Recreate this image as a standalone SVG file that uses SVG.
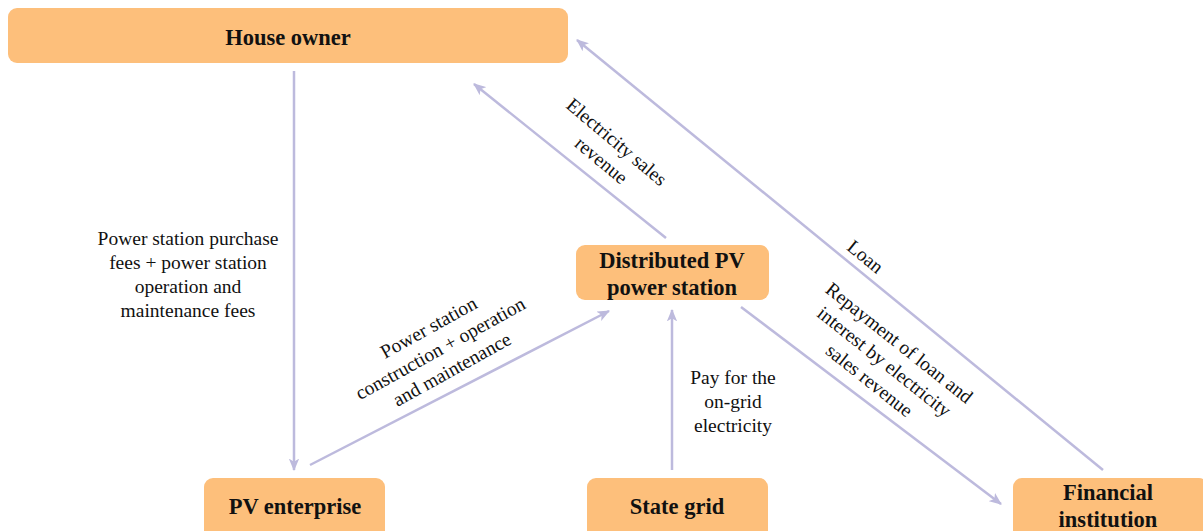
<svg xmlns="http://www.w3.org/2000/svg" width="1203" height="531" viewBox="0 0 1203 531">
<style>
.box{fill:#FDBF7B;}
.bt{font-family:"Liberation Serif",serif;font-weight:bold;font-size:22.5px;fill:#111;text-anchor:middle;}
.lt{font-family:"Liberation Serif",serif;font-size:19.5px;fill:#111;text-anchor:middle;}
.c{stroke:#BDBADD;stroke-width:2.5;fill:none;marker-end:url(#ah);}
</style>
<defs>
<marker id="ah" viewBox="0 0 12 10" refX="11" refY="5" markerWidth="5" markerHeight="4.2" orient="auto" markerUnits="strokeWidth">
<path d="M0,0 L12,5 L0,10 L3,5 Z" fill="#BDBADD"/>
</marker>
</defs>
<rect width="1203" height="531" fill="#fff"/>
<g id="connectors">
<line class="c" x1="294" y1="71" x2="294" y2="470"/>
<line class="c" x1="310" y1="465" x2="609" y2="311"/>
<line class="c" x1="672" y1="470" x2="672" y2="310"/>
<line class="c" x1="666" y1="238" x2="474" y2="84"/>
<line class="c" x1="741" y1="307" x2="1001" y2="504"/>
<line class="c" x1="1103" y1="470" x2="577" y2="40"/>
</g>
<g id="labels">
<text class="lt"><tspan x="188" y="245">Power station purchase</tspan><tspan x="188" y="269">fees + power station</tspan><tspan x="188" y="293">operation and</tspan><tspan x="188" y="317">maintenance  fees</tspan></text>
<text class="lt"><tspan x="733" y="384">Pay for the</tspan><tspan x="733" y="408">on-grid</tspan><tspan x="733" y="432">electricity</tspan></text>
<g transform="translate(610,150) rotate(40)"><text class="lt"><tspan x="0" y="-4">Electricity  sales</tspan><tspan x="0" y="20">revenue</tspan></text></g>
<g transform="translate(440,348) rotate(-29)"><text class="lt"><tspan x="0" y="-17">Power station</tspan><tspan x="0" y="7">construction  + operation</tspan><tspan x="0" y="31">and maintenance</tspan></text></g>
<g transform="translate(865,257) rotate(39)"><text class="lt" y="6">Loan</text></g>
<g transform="translate(884,362) rotate(38.5)"><text class="lt"><tspan x="0" y="-18">Repayment  of loan and</tspan><tspan x="0" y="6">interest by electricity</tspan><tspan x="0" y="30">sales revenue</tspan></text></g>
</g>
<g id="house-owner"><rect class="box" x="8" y="8" width="560" height="55" rx="9"/><text class="bt" x="288" y="45">House owner</text></g>
<g id="distributed-pv"><rect class="box" x="576" y="245" width="193" height="55" rx="9"/><text class="bt"><tspan x="672" y="268">Distributed PV</tspan><tspan x="672" y="295">power station</tspan></text></g>
<g id="pv-enterprise"><rect class="box" x="204" y="478" width="181" height="62" rx="9"/><text class="bt" x="295" y="514">PV enterprise</text></g>
<g id="state-grid"><rect class="box" x="587" y="478" width="181" height="62" rx="9"/><text class="bt" x="677" y="514">State grid</text></g>
<g id="financial-institution"><rect class="box" x="1013" y="478" width="195" height="62" rx="9"/><text class="bt"><tspan x="1108" y="500">Financial</tspan><tspan x="1108" y="527">institution</tspan></text></g>
</svg>
